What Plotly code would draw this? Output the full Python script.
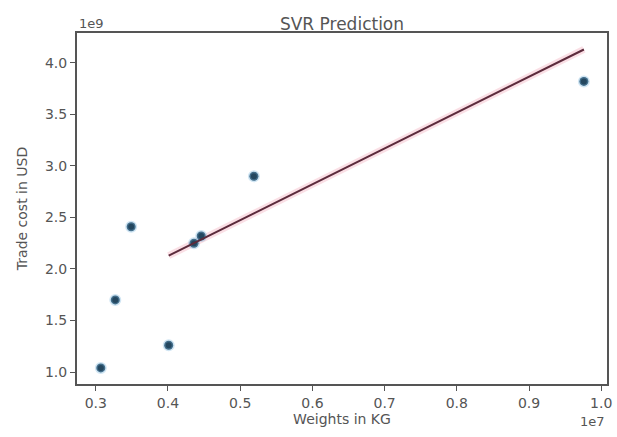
import numpy as np
import plotly.graph_objects as go

# Observed shipments: weight (kg) and trade cost (USD)
weights_kg = np.array([3.07e6, 3.27e6, 3.49e6, 4.01e6, 4.36e6, 4.46e6, 5.19e6, 9.76e6])
trade_cost_usd = np.array([1.04e9, 1.70e9, 2.41e9, 1.26e9, 2.25e9, 2.32e9, 2.90e9, 3.82e9])

# SVR fitted line over the prediction range
pred_weights_kg = np.array([4.01e6, 4.36e6, 4.46e6, 5.19e6, 9.76e6])
pred_cost_usd = np.array([2.13e9, 2.25e9, 2.29e9, 2.54e9, 4.13e9])

x_ticks = [0.3, 0.4, 0.5, 0.6, 0.7, 0.8, 0.9, 1.0]
y_ticks = [1.0, 1.5, 2.0, 2.5, 3.0, 3.5, 4.0]

X_SCALE = 1e7
Y_SCALE = 1e9

font_family = "DejaVu Sans"
axis_color = "#555555"
text_color = "#555555"

fig = go.Figure()

# soft halo under the regression line
fig.add_trace(go.Scatter(
    x=pred_weights_kg / X_SCALE, y=pred_cost_usd / Y_SCALE,
    mode="lines", line=dict(color="rgba(240,150,170,0.3)", width=7),
    hoverinfo="skip", showlegend=False,
))
fig.add_trace(go.Scatter(
    x=weights_kg / X_SCALE, y=trade_cost_usd / Y_SCALE,
    mode="markers",
    marker=dict(color="#24475f", size=9,
                line=dict(color="rgba(120,180,220,0.35)", width=3)),
    showlegend=False,
))
fig.add_trace(go.Scatter(
    x=pred_weights_kg / X_SCALE, y=pred_cost_usd / Y_SCALE,
    mode="lines", line=dict(color="#5c2b3c", width=2),
    showlegend=False,
))

axis_common = dict(
    showgrid=False, zeroline=False,
    showline=True, linecolor=axis_color, linewidth=2, mirror=True,
    ticks="outside", ticklen=5, tickwidth=1.2, tickcolor=axis_color,
    tickfont=dict(family=font_family, size=14, color=text_color),
)

fig.update_xaxes(
    range=[0.274, 1.008],
    tickvals=x_ticks, ticktext=[f"{v:.1f}" for v in x_ticks],
    title=dict(text="Weights in KG", font=dict(family=font_family, size=14, color=text_color), standoff=4),
    **axis_common,
)
fig.update_yaxes(
    range=[0.884, 4.29],
    tickvals=y_ticks, ticktext=[f"{v:.1f}" for v in y_ticks],
    title=dict(text="Trade cost in USD", font=dict(family=font_family, size=14, color=text_color), standoff=14),
    **axis_common,
)

fig.update_layout(
    width=617, height=437,
    margin=dict(l=77, r=5, t=33, b=53),
    paper_bgcolor="white", plot_bgcolor="white",
    title=dict(text="SVR Prediction", x=0.5, xanchor="center", xref="paper",
               y=1, yref="paper", yanchor="bottom", pad=dict(b=3),
               font=dict(family=font_family, size=17, color=text_color)),
    annotations=[
        dict(text="1e9", xref="paper", yref="paper", x=0, y=1, xanchor="left",
             yanchor="bottom", showarrow=False, yshift=0,
             font=dict(family=font_family, size=13, color=text_color)),
        dict(text="1e7", xref="paper", yref="paper", x=1, y=0, xanchor="right",
             yanchor="top", showarrow=False, yshift=-28,
             font=dict(family=font_family, size=13, color=text_color)),
    ],
)

fig.write_html("out.html")
